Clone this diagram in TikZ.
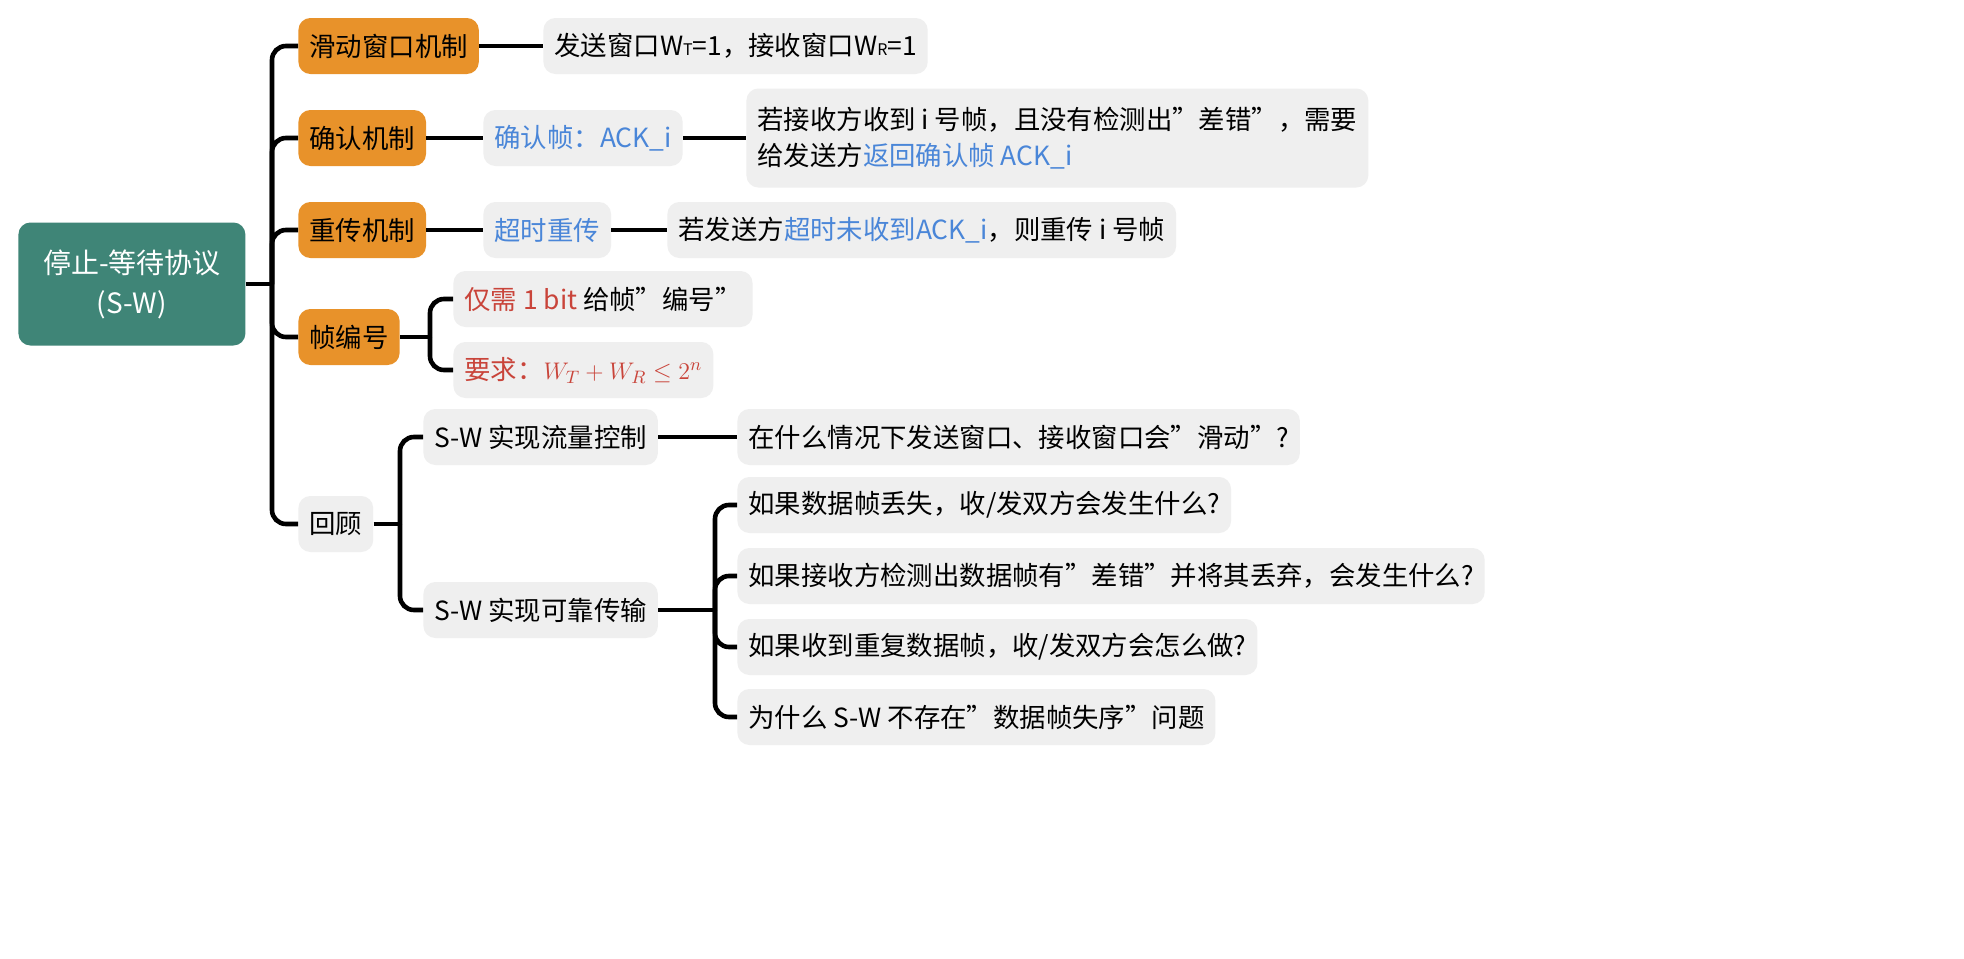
\documentclass[tikz,border=0pt]{standalone}
\usepackage{fontspec}
\setmainfont{Noto Sans CJK SC}
\definecolor{teal}{HTML}{3F8577}
\definecolor{org}{HTML}{E8922A}
\definecolor{gbox}{HTML}{EFEFEF}
\definecolor{bl}{HTML}{4A86D8}
\definecolor{rd}{HTML}{C9443A}
\begin{document}
\begin{tikzpicture}[x=0.5pt,y=-0.5pt,
  base/.style={anchor=west,rounded corners=6pt,inner xsep=5.5pt,minimum height=28pt,font=\fontsize{13.2}{18}\selectfont},
  ob/.style={base,fill=org},
  gb/.style={base,fill=gbox},
  conn/.style={line width=2.3pt,rounded corners=7pt}]
\useasboundingbox (0,0) rectangle (1964,958);
\fill[white] (0,0) rectangle (1964,958);
\node[base,fill=teal,text=white,minimum width=113.5pt,minimum height=61.5pt,align=center,font=\fontsize{14}{20}\selectfont] (root) at (18,284) {停止-等待协议\\(S-W)};
\node[ob] (a) at (298,46) {滑动窗口机制};
\node[ob] (b) at (298,138) {确认机制};
\node[ob] (c) at (298,230) {重传机制};
\node[ob] (d) at (298,337) {帧编号};
\node[gb] (e) at (298,524) {回顾};
\node[gb] (a1) at (543,46) {发送窗口W{\fontsize{8}{8}\selectfont T}=1，接收窗口W{\fontsize{8}{8}\selectfont R}=1};
\node[gb,text=bl] (b1) at (483,138) {确认帧：ACK\_i};
\node[gb,align=left,minimum height=49.5pt] (b2) at (746,138) {若接收方收到 i 号帧，且没有检测出"差错"，需要\\给发送方\textcolor{bl}{返回确认帧 ACK\_i}};
\node[gb,text=bl] (c1) at (483,230) {超时重传};
\node[gb] (c2) at (667,230) {若发送方\textcolor{bl}{超时未收到ACK\_i}，则重传 i 号帧};
\node[gb] (d1) at (453,299) {\textcolor{rd}{仅需 1 bit} 给帧"编号"};
\node[gb,text=rd] (d2) at (453,370) {要求：$W_T+W_R\le 2^n$};
\node[gb] (e1) at (423,437) {S-W 实现流量控制};
\node[gb] (e1a) at (737,437) {在什么情况下发送窗口、接收窗口会"滑动"?};
\node[gb] (e2) at (423,610) {S-W 实现可靠传输};
\node[gb] (f1) at (737,505) {如果数据帧丢失，收/发双方会发生什么?};
\node[gb] (f2) at (737,576) {如果接收方检测出数据帧有"差错"并将其丢弃，会发生什么?};
\node[gb] (f3) at (737,647) {如果收到重复数据帧，收/发双方会怎么做?};
\node[gb] (f4) at (737,717) {为什么 S-W 不存在"数据帧失序"问题};
\coordinate (s0) at (272,284);
\draw[conn] (root.east) -- (s0);
\foreach \n in {a,b,c,d,e} \draw[conn] (s0) |- (\n.west);
\draw[conn] (a.east) -- (a1.west);
\draw[conn] (b.east) -- (b1.west);
\draw[conn] (b1.east) -- (b2.west);
\draw[conn] (c.east) -- (c1.west);
\draw[conn] (c1.east) -- (c2.west);
\coordinate (s1) at (430,337);
\draw[conn] (d.east) -- (s1);
\foreach \n in {d1,d2} \draw[conn] (s1) |- (\n.west);
\coordinate (s2) at (400,524);
\draw[conn] (e.east) -- (s2);
\foreach \n in {e1,e2} \draw[conn] (s2) |- (\n.west);
\draw[conn] (e1.east) -- (e1a.west);
\coordinate (s3) at (715,610);
\draw[conn] (e2.east) -- (s3);
\foreach \n in {f1,f2,f3,f4} \draw[conn] (s3) |- (\n.west);
\end{tikzpicture}
\end{document}
